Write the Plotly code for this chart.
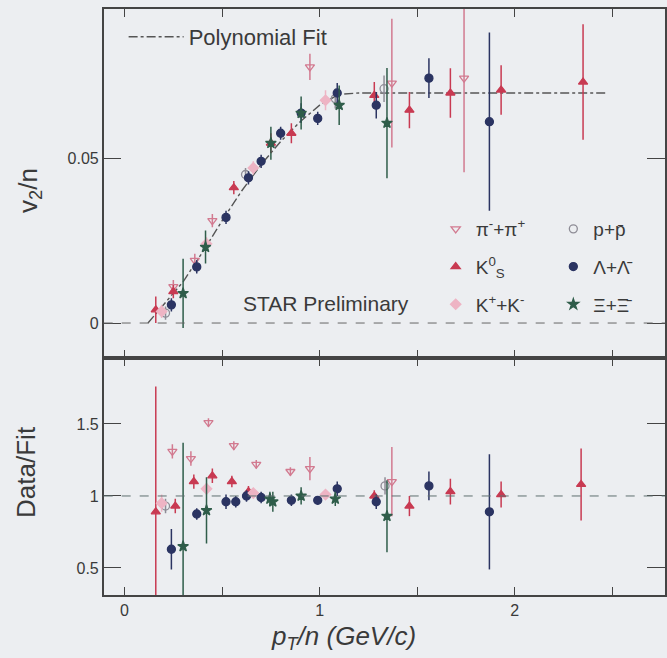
import plotly.graph_objects as go

# ---------------- data ----------------
# pi- + pi+
pi_x = [0.25, 0.36, 0.45, 0.95, 1.37, 1.74]
pi_y = [0.0110, 0.0190, 0.0310, 0.0776, 0.0727, 0.0742]
pi_e = [0.002, 0.002, 0.002, 0.004, 0.0195, 0.0285]
pi_rx = [0.245, 0.34, 0.43, 0.56, 0.675, 0.85, 0.95, 1.37]
pi_r = [1.31, 1.26, 1.51, 1.35, 1.22, 1.17, 1.19, 1.10]
pi_re = [0.05, 0.05, 0.03, 0.03, 0.03, 0.03, 0.08, 0.24]

# p + pbar
p_x = [0.21, 0.62, 1.08, 1.33]
p_y = [0.0030, 0.0450, 0.0680, 0.0710]
p_e = [0.002, 0.002, 0.003, 0.004]
p_rx = [0.21, 1.335]
p_r = [0.93, 1.07]
p_re = [0.05, 0.06]

# K0s
k0_x = [0.16, 0.25, 0.56, 0.75, 0.855, 1.28, 1.46, 1.67, 1.93, 2.35]
k0_y = [0.004, 0.0095, 0.041, 0.0545, 0.0575, 0.069, 0.0645, 0.0697, 0.0706, 0.073]
k0_e = [0.004, 0.002, 0.002, 0.003, 0.003, 0.004, 0.0055, 0.0075, 0.0075, 0.0175]
k0_rx = [0.16, 0.26, 0.355, 0.45, 0.55, 0.635, 1.28, 1.46, 1.67, 1.93, 2.34]
k0_r = [0.89, 0.93, 1.10, 1.14, 1.10, 1.03, 1.00, 0.93, 1.03, 1.01, 1.08]
k0_re = [0.87, 0.05, 0.05, 0.05, 0.04, 0.04, 0.04, 0.07, 0.09, 0.09, 0.25]

# Lambda + anti-Lambda
la_x = [0.24, 0.37, 0.52, 0.635, 0.70, 0.80, 0.905, 0.99, 1.09, 1.29, 1.56, 1.87]
la_y = [0.0055, 0.017, 0.032, 0.044, 0.049, 0.0575, 0.0636, 0.062, 0.0697, 0.066, 0.0742, 0.061]
la_e = [0.002, 0.002, 0.002, 0.002, 0.002, 0.002, 0.003, 0.002, 0.003, 0.004, 0.006, 0.027]
la_rx = [0.24, 0.37, 0.52, 0.57, 0.625, 0.70, 0.855, 0.99, 1.09, 1.29, 1.56, 1.87]
la_r = [0.63, 0.875, 0.96, 0.96, 1.00, 0.99, 0.97, 0.97, 1.05, 0.96, 1.07, 0.89]
la_re = [0.14, 0.04, 0.05, 0.04, 0.04, 0.04, 0.04, 0.03, 0.05, 0.05, 0.10, 0.40]

# K+ + K-
kc_x = [0.19, 0.42, 0.66, 1.03]
kc_y = [0.0035, 0.024, 0.047, 0.0675]
kc_e = [0.002, 0.002, 0.002, 0.003]
kc_rx = [0.19, 0.42, 0.66, 1.03]
kc_r = [0.95, 1.05, 1.02, 1.01]
kc_re = [0.06, 0.04, 0.03, 0.03]

# Xi + anti-Xi
xi_x = [0.30, 0.415, 0.75, 0.905, 1.10, 1.345]
xi_y = [0.009, 0.023, 0.0545, 0.0636, 0.066, 0.0606]
xi_e = [0.0105, 0.005, 0.005, 0.005, 0.006, 0.0167]
xi_rx = [0.30, 0.42, 0.745, 0.76, 0.905, 1.08, 1.345]
xi_r = [0.65, 0.90, 0.98, 0.96, 1.00, 0.98, 0.86]
xi_re = [0.72, 0.23, 0.05, 0.07, 0.06, 0.05, 0.25]

# polynomial fit curve
fit_x = [0.12, 0.2, 0.3, 0.4, 0.5, 0.6, 0.7, 0.8, 0.9, 1.0, 1.1, 1.2, 2.47]
fit_y = [0.0, 0.0055, 0.0125, 0.0215, 0.031, 0.040, 0.048, 0.055, 0.061, 0.066, 0.0693, 0.0697, 0.0697]

x_ticks = [0, 0.5, 1, 1.5, 2, 2.5]
x_ticktext = ["0", "", "1", "", "2", ""]
y1_ticks = [0, 0.05]
y1_ticktext = ["0", "0.05"]
y2_ticks = [0.5, 1, 1.5]
y2_ticktext = ["0.5", "1", "1.5"]

species = [
    ("π<sup>-</sup>+π<sup>+</sup>", "triangle-down-open", "#d27a90", pi_x, pi_y, pi_e, pi_rx, pi_r, pi_re, "legend"),
    ("p+p\u0304", "circle-open", "#8e8c96", p_x, p_y, p_e, p_rx, p_r, p_re, "legend2"),
    ("K<sup>0</sup><sub>S</sub>", "triangle-up", "#c83a52", k0_x, k0_y, k0_e, k0_rx, k0_r, k0_re, "legend"),
    ("Λ+Λ\u0304", "circle", "#2b3462", la_x, la_y, la_e, la_rx, la_r, la_re, "legend2"),
    ("K<sup>+</sup>+K<sup>-</sup>", "diamond", "#eeb4c4", kc_x, kc_y, kc_e, kc_rx, kc_r, kc_re, "legend"),
    ("Ξ+Ξ\u0304", "star", "#2f5d4a", xi_x, xi_y, xi_e, xi_rx, xi_r, xi_re, "legend2"),
]

W, H = 667, 658
BG = "#eceef1"
AX = "#444444"
TXT = "#3a3a3a"
FONT = "Liberation Sans, Arial, sans-serif"

fig = go.Figure()

fig.add_trace(go.Scatter(x=fit_x, y=fit_y, mode="lines", name="Polynomial Fit",
                         line=dict(color="#555555", width=1.4, dash="dashdot"),
                         xaxis="x", yaxis="y", legend="legend3"))

for i, (name, sym, col, ux, uy, ue, rx, r, re, lg) in enumerate(species):
    fig.add_trace(go.Scatter(
        x=ux, y=uy, mode="markers", name=name, legend=lg, legendgroup=name,
        marker=dict(symbol=sym, size=8, color=col, line=dict(color=col, width=1.3)),
        error_y=dict(type="data", array=ue, color=col, thickness=1.5, width=0),
        xaxis="x", yaxis="y"))
    fig.add_trace(go.Scatter(
        x=rx, y=r, mode="markers", name=name, showlegend=False, legendgroup=name,
        marker=dict(symbol=sym, size=8, color=col, line=dict(color=col, width=1.3)),
        error_y=dict(type="data", array=re, color=col, thickness=1.5, width=0),
        xaxis="x2", yaxis="y2"))

xdom = [104 / W, 1.0]
xrange = [-0.107, 2.77]
common_x = dict(range=xrange, domain=xdom, showline=True, linecolor=AX, linewidth=1.5,
                mirror="ticks", ticks="inside", ticklen=8, tickwidth=1.3, tickcolor=AX,
                tickvals=x_ticks, ticktext=x_ticktext, showgrid=False, zeroline=False,
                tickfont=dict(family=FONT, size=16, color=TXT))
common_y = dict(showline=True, linecolor=AX, linewidth=1.5, mirror="ticks", ticks="inside",
                ticklen=18, tickwidth=1.3, tickcolor=AX, showgrid=False, zeroline=False,
                tickfont=dict(family=FONT, size=16, color=TXT))

fig.update_layout(
    width=W, height=H, margin=dict(l=0, r=0, t=0, b=0),
    paper_bgcolor=BG, plot_bgcolor=BG,
    font=dict(family=FONT, color=TXT),
    xaxis=dict(common_x, anchor="y", showticklabels=False),
    yaxis=dict(common_y, domain=[1 - 358 / H, 1 - 9 / H], range=[-0.0106, 0.09515],
               tickvals=y1_ticks, ticktext=y1_ticktext, anchor="x"),
    xaxis2=dict(common_x, anchor="y2"),
    yaxis2=dict(common_y, domain=[1 - 595 / H, 1 - 358 / H], range=[0.3125, 1.958],
                tickvals=y2_ticks, ticktext=y2_ticktext, anchor="x2"),
    legend=dict(x=437 / W, y=1 - 210 / H, xanchor="left", yanchor="top",
                bgcolor="rgba(0,0,0,0)", traceorder="grouped", tracegroupgap=10,
                font=dict(family=FONT, size=19, color=TXT)),
    legend2=dict(x=555 / W, y=1 - 210 / H, xanchor="left", yanchor="top",
                 bgcolor="rgba(0,0,0,0)", traceorder="grouped", tracegroupgap=10,
                 font=dict(family=FONT, size=19, color=TXT)),
    legend3=dict(x=124 / W, y=1 - 16 / H, xanchor="left", yanchor="top", itemwidth=55,
                 bgcolor="rgba(0,0,0,0)", font=dict(family=FONT, size=22, color=TXT)),
    shapes=[
        dict(type="line", xref="x domain", x0=0, x1=1, yref="y", y0=0, y1=0,
             line=dict(color="#666666", width=1, dash="dash")),
        dict(type="line", xref="x2 domain", x0=0, x1=1, yref="y2", y0=1, y1=1,
             line=dict(color="#5f7070", width=1, dash="dash")),
    ],
    annotations=[
        dict(text="STAR Preliminary", xref="paper", yref="paper", x=242 / W, y=1 - 303 / H,
             xanchor="left", yanchor="middle", showarrow=False,
             font=dict(family=FONT, size=21, color=TXT)),
        dict(text="v<sub>2</sub>/n", xref="paper", yref="paper", x=30 / W, y=1 - 190 / H,
             textangle=-90, showarrow=False, xanchor="center", yanchor="middle",
             font=dict(family=FONT, size=26, color=TXT)),
        dict(text="Data/Fit", xref="paper", yref="paper", x=26 / W, y=1 - 472 / H,
             textangle=-90, showarrow=False, xanchor="center", yanchor="middle",
             font=dict(family=FONT, size=26, color=TXT)),
        dict(text="<i>p<sub>T</sub>/n (GeV/c)</i>", xref="paper", yref="paper", x=345 / W,
             y=1 - 637 / H, showarrow=False, xanchor="center", yanchor="middle",
             font=dict(family=FONT, size=26, color=TXT)),
    ],
)

fig.write_html("out.html")
